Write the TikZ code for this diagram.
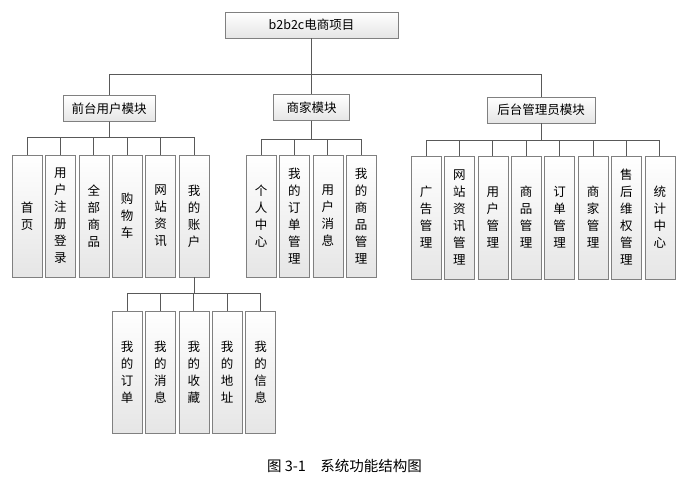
\documentclass[tikz,border=0pt]{standalone}
\usepackage{fontspec}
\setmainfont{Noto Sans CJK SC}
\usetikzlibrary{positioning}

\tikzset{
  box/.style={draw=black!50, top color=white, bottom color=black!10, inner sep=0pt,
    font=\fontsize{12.5}{17}\selectfont, align=center},
  hbox/.style={box, minimum height=26pt},
  vbox/.style={box, minimum width=30pt, minimum height=122pt},
  link/.style={draw=black!65, line width=0.8pt}
}

\begin{document}
\begin{tikzpicture}[x=1pt, y=-1pt, node distance=3pt]
\useasboundingbox (0,0) rectangle (677,480);

% Top levels
\node[hbox, minimum width=173pt] (root) at (311.5,25) {b2b2c电商项目};
\node[hbox, minimum width=92pt] (front) at (109,108.5) {前台用户模块};
\node[hbox, minimum width=76pt] (merchant) at (311.5,107.5) {商家模块};
\node[hbox, minimum width=108pt] (admin) at (541,110) {后台管理员模块};

% Front-end user module
\node[vbox] (f1) at (27,216) {首\\页};
\node[vbox, right=of f1] (f2) {用\\户\\注\\册\\登\\录};
\node[vbox, right=of f2] (f3) {全\\部\\商\\品};
\node[vbox, right=of f3] (f4) {购\\物\\车};
\node[vbox, right=of f4] (f5) {网\\站\\资\\讯};
\node[vbox, right=of f5] (f6) {我\\的\\账\\户};

% My account
\node[vbox] (u1) at (127,372) {我\\的\\订\\单};
\node[vbox, right=of u1] (u2) {我\\的\\消\\息};
\node[vbox, right=of u2] (u3) {我\\的\\收\\藏};
\node[vbox, right=of u3] (u4) {我\\的\\地\\址};
\node[vbox, right=of u4] (u5) {我\\的\\信\\息};

% Merchant module
\node[vbox] (m1) at (261,216) {个\\人\\中\\心};
\node[vbox, right=of m1] (m2) {我\\的\\订\\单\\管\\理};
\node[vbox, right=of m2] (m3) {用\\户\\消\\息};
\node[vbox, right=of m3] (m4) {我\\的\\商\\品\\管\\理};

% Admin module
\node[vbox, minimum height=123pt] (a1) at (426,217.5) {广\\告\\管\\理};
\node[vbox, minimum height=123pt, right=of a1] (a2) {网\\站\\资\\讯\\管\\理};
\node[vbox, minimum height=123pt, right=of a2] (a3) {用\\户\\管\\理};
\node[vbox, minimum height=123pt, right=of a3] (a4) {商\\品\\管\\理};
\node[vbox, minimum height=123pt, right=of a4] (a5) {订\\单\\管\\理};
\node[vbox, minimum height=123pt, right=of a5] (a6) {商\\家\\管\\理};
\node[vbox, minimum height=123pt, right=of a6] (a7) {售\\后\\维\\权\\管\\理};
\node[vbox, minimum height=123pt, right=of a7] (a8) {统\\计\\中\\心};

% Caption
\node[font=\fontsize{14.5}{16}\selectfont] (caption) at (344.5,466) {图\ 3-1\quad 系统功能结构图};

% Lines
\draw[link] (root.south) -- ++(0,36) -| (front.north);
\draw[link] (root.south) -- (merchant.north);
\draw[link] (root.south) -- ++(0,36) -| (admin.north);

\draw[link] (front.south) -- ++(0,16) -| (f1.north);
\draw[link] (front.south) -- ++(0,16) -| (f2.north);
\draw[link] (front.south) -- ++(0,16) -| (f3.north);
\draw[link] (front.south) -- ++(0,16) -| (f4.north);
\draw[link] (front.south) -- ++(0,16) -| (f5.north);
\draw[link] (front.south) -- ++(0,16) -| (f6.north);

\draw[link] (f6.south) -- ++(0,16) -| (u1.north);
\draw[link] (f6.south) -- ++(0,16) -| (u2.north);
\draw[link] (f6.south) -- ++(0,16) -| (u3.north);
\draw[link] (f6.south) -- ++(0,16) -| (u4.north);
\draw[link] (f6.south) -- ++(0,16) -| (u5.north);

\draw[link] (merchant.south) -- ++(0,19) -| (m1.north);
\draw[link] (merchant.south) -- ++(0,19) -| (m2.north);
\draw[link] (merchant.south) -- ++(0,19) -| (m3.north);
\draw[link] (merchant.south) -- ++(0,19) -| (m4.north);

\draw[link] (admin.south) -- ++(0,17) -| (a1.north);
\draw[link] (admin.south) -- ++(0,17) -| (a2.north);
\draw[link] (admin.south) -- ++(0,17) -| (a3.north);
\draw[link] (admin.south) -- ++(0,17) -| (a4.north);
\draw[link] (admin.south) -- ++(0,17) -| (a5.north);
\draw[link] (admin.south) -- ++(0,17) -| (a6.north);
\draw[link] (admin.south) -- ++(0,17) -| (a7.north);
\draw[link] (admin.south) -- ++(0,17) -| (a8.north);
\end{tikzpicture}
\end{document}
